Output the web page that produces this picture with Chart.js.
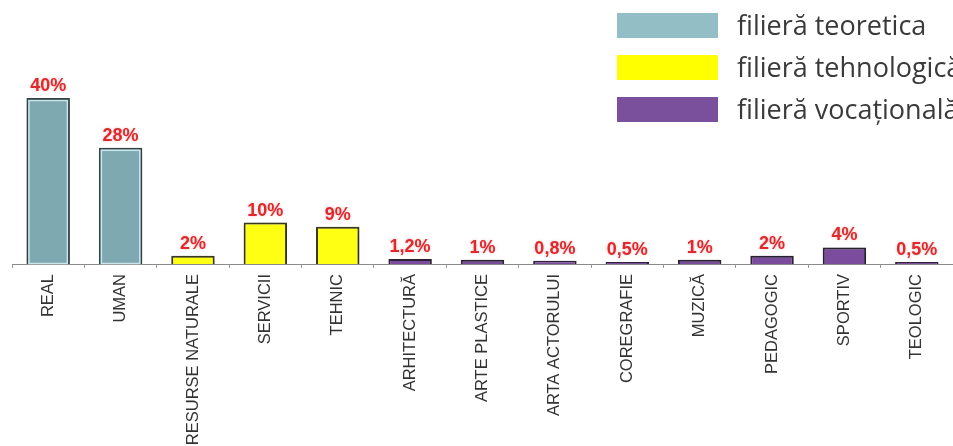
<!DOCTYPE html>
<html>
<head>
<meta charset="utf-8">
<script src="https://cdn.jsdelivr.net/npm/chart.js@4"></script>
<style>
  html, body { margin: 0; padding: 0; background: #fff; width: 953px; height: 446px; overflow: hidden; }
  #wrap { position: relative; width: 953px; height: 446px; overflow: hidden; }
  #legend { position: absolute; left: 617px; top: 0; width: 336px; height: 140px; overflow: hidden; white-space: nowrap; font-family: "Open Sans", sans-serif; font-size: 27px; color: #3a3a3a; }
  .row { position: absolute; left: 0; height: 25px; }
  .box { position: absolute; left: 0; top: 0; width: 101px; height: 25px; }
  .txt { position: absolute; left: 120px; top: -5px; line-height: 34px; }
</style>
</head>
<body>
<div id="wrap">
  <canvas id="myChart" width="953" height="446"></canvas>
  <div id="legend"></div>
</div>
<script>
// categories (profiles) and their share
var profiles = ['REAL', 'UMAN', 'RESURSE NATURALE', 'SERVICII', 'TEHNIC', 'ARHITECTURĂ', 'ARTE PLASTICE',
                'ARTA ACTORULUI', 'COREGRAFIE', 'MUZICĂ', 'PEDAGOGIC', 'SPORTIV', 'TEOLOGIC'];
var percents = [40, 28, 2, 10, 9, 1.2, 1, 0.8, 0.5, 1, 2, 4, 0.5];
// which track each profile belongs to: 0 teoretica, 1 tehnologica, 2 vocationala
var track = [0, 0, 1, 1, 1, 2, 2, 2, 2, 2, 2, 2, 2];
var trackNames = ['filieră teoretica', 'filieră tehnologică', 'filieră vocațională'];

var barFill = ['#7fa9b1', '#ffff14', '#7b4c9e'];
var barLine = ['#34474a', '#3d3d22', '#2e2438'];
var legendFill = ['#94bec5', '#ffff00', '#7a4f9b'];

// legend (html, top right)
var leg = document.getElementById('legend');
var rowTops = [13, 55, 97];
trackNames.forEach(function (name, i) {
  var r = document.createElement('div');
  r.className = 'row';
  r.style.top = rowTops[i] + 'px';
  r.innerHTML = '<div class="box" style="background:' + legendFill[i] + '"></div><div class="txt">' + name + '</div>';
  leg.appendChild(r);
});

var valueLabels = {
  id: 'valueLabels',
  beforeDatasetsDraw: function (chart) {
    var ctx = chart.ctx;
    ctx.save();
    ctx.shadowColor = 'rgba(0,0,0,0.35)';
    ctx.shadowBlur = 7;
    ctx.shadowOffsetX = 1;
    ctx.shadowOffsetY = 1;
  },
  afterDatasetsDraw: function (chart) {
    var ctx = chart.ctx;
    ctx.restore();
    var meta = chart.getDatasetMeta(0);
    ctx.save();
    // light inner edge on the teal bars
    ctx.strokeStyle = 'rgba(220,245,250,0.8)';
    ctx.lineWidth = 1.5;
    meta.data.forEach(function (bar, i) {
      if (track[i] !== 0) return;
      var w = bar.width / 2;
      ctx.strokeRect(bar.x - w + 2.5, bar.y + 2.5, bar.width - 5, bar.base - bar.y - 3);
    });
    ctx.font = 'bold 18px "Liberation Sans", Arial, sans-serif';
    ctx.fillStyle = '#e0292c';
    ctx.textAlign = 'center';
    ctx.textBaseline = 'alphabetic';
    ctx.shadowColor = 'rgba(200,0,0,0.25)';
    ctx.shadowBlur = 3;
    meta.data.forEach(function (bar, i) {
      var txt = String(percents[i]).replace('.', ',') + '%';
      ctx.fillText(txt, bar.x, bar.y - 7);
    });
    ctx.restore();
  }
};

var ctx = document.getElementById('myChart').getContext('2d');
var myChart = new Chart(ctx, {
  type: 'bar',
  data: {
    labels: profiles,
    datasets: [{
      data: percents,
      backgroundColor: track.map(function (t) { return barFill[t]; }),
      borderColor: track.map(function (t) { return barLine[t]; }),
      borderWidth: 2,
      borderSkipped: 'bottom',
      categoryPercentage: 1,
      barPercentage: 0.6
    }]
  },
  options: {
    responsive: false,
    animation: false,
    layout: { padding: { top: 98, left: 12, right: -3, bottom: 0 } },
    plugins: { legend: { display: false }, tooltip: { enabled: false } },
    scales: {
      x: {
        afterFit: function (scale) { scale.height = 182; },
        grid: { display: true, drawOnChartArea: false, drawTicks: true, tickLength: 4, color: '#999', offset: true },
        border: { display: true, color: '#8a8a8a', width: 1 },
        ticks: {
          autoSkip: false,
          minRotation: 90,
          maxRotation: 90,
          padding: 6,
          color: '#333',
          font: { family: '"Liberation Sans", Arial, sans-serif', size: 16.5 }
        }
      },
      y: {
        display: false,
        min: 0,
        max: 40
      }
    }
  },
  plugins: [valueLabels]
});
</script>
</body>
</html>
